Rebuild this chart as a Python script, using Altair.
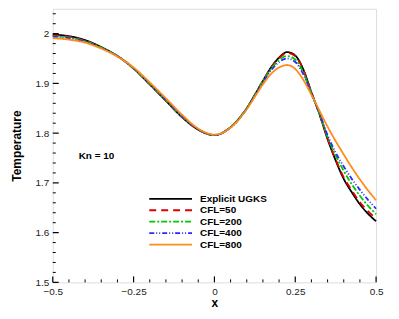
import altair as alt
import pandas as pd

xs = [-0.5, -0.45, -0.4, -0.35, -0.3, -0.25, -0.2, -0.15, -0.1, -0.05, 0.0, 0.05, 0.1, 0.125,
      0.15, 0.175, 0.2, 0.225, 0.25, 0.275, 0.3, 0.325, 0.35, 0.375, 0.4, 0.425, 0.45, 0.475, 0.5]

t_explicit = [1.998, 1.995, 1.987, 1.973, 1.955, 1.930, 1.898, 1.865, 1.832, 1.807, 1.796, 1.812, 1.850, 1.877,
              1.905, 1.932, 1.952, 1.963, 1.956, 1.928, 1.882, 1.838, 1.788, 1.745, 1.708, 1.681, 1.657, 1.638, 1.623]
t_cfl50 = [1.997, 1.994, 1.986, 1.972, 1.955, 1.930, 1.898, 1.865, 1.832, 1.807, 1.796, 1.812, 1.850, 1.877,
           1.905, 1.931, 1.951, 1.961, 1.955, 1.927, 1.882, 1.838, 1.789, 1.747, 1.711, 1.685, 1.661, 1.643, 1.628]
t_cfl200 = [1.995, 1.992, 1.985, 1.972, 1.955, 1.930, 1.899, 1.866, 1.833, 1.808, 1.796, 1.812, 1.850, 1.876,
            1.904, 1.929, 1.947, 1.955, 1.948, 1.922, 1.880, 1.839, 1.792, 1.755, 1.724, 1.697, 1.674, 1.654, 1.637]
t_cfl400 = [1.994, 1.991, 1.984, 1.971, 1.955, 1.931, 1.900, 1.867, 1.834, 1.808, 1.796, 1.811, 1.849, 1.875,
            1.902, 1.926, 1.943, 1.950, 1.943, 1.918, 1.879, 1.840, 1.796, 1.761, 1.733, 1.708, 1.686, 1.666, 1.648]
t_cfl800 = [1.991, 1.988, 1.982, 1.970, 1.954, 1.932, 1.902, 1.870, 1.837, 1.809, 1.797, 1.811, 1.848, 1.873,
            1.898, 1.919, 1.932, 1.937, 1.929, 1.907, 1.877, 1.845, 1.813, 1.784, 1.757, 1.731, 1.707, 1.685, 1.665]

series = ["Explicit UGKS", "CFL=50", "CFL=200", "CFL=400", "CFL=800"]
colors = ["#000000", "#e00000", "#00c800", "#2a2aff", "#ff8c1a"]
dashes = [[1, 0], [7, 5], [6, 2, 2, 2], [5, 2, 1, 2, 1, 2], [1, 0]]
draw_order = ["CFL=800", "CFL=400", "CFL=200", "Explicit UGKS", "CFL=50"]

y_major = [1.5, 1.6, 1.7, 1.8, 1.9, 2.0]
y_minor = [1.52, 1.54, 1.56, 1.58, 1.62, 1.64, 1.66, 1.68, 1.72, 1.74, 1.76, 1.78,
           1.82, 1.84, 1.86, 1.88, 1.92, 1.94, 1.96, 1.98, 2.02, 2.04]
x_major = [-0.5, -0.25, 0.0, 0.25, 0.5]
x_minor = [-0.45, -0.4, -0.35, -0.3, -0.2, -0.15, -0.1, -0.05, 0.05, 0.1, 0.15, 0.2, 0.3, 0.35, 0.4, 0.45]

rows = []
for name, vals in zip(series, [t_explicit, t_cfl50, t_cfl200, t_cfl400, t_cfl800]):
    for x, t in zip(xs, vals):
        rows.append({"x": x, "T": t, "series": name, "order": draw_order.index(name)})
df = pd.DataFrame(rows)

W, H = 325, 275
FONT = "Liberation Sans"

xscale = alt.Scale(domain=[-0.5, 0.5], nice=False, zero=False)
yscale = alt.Scale(domain=[1.5, 2.05], nice=False, zero=False)
cscale = alt.Scale(domain=series, range=colors)
dscale = alt.Scale(domain=series, range=dashes)

lines = alt.Chart(df).mark_line(strokeWidth=1.8, interpolate="monotone").encode(
    x=alt.X("x:Q", scale=xscale,
            axis=alt.Axis(values=x_major, title="x", tickSize=0, labelPadding=4, domain=False,
                          grid=False, labelFont=FONT, labelFontSize=10, labelColor="#222",
                          titleFont=FONT, titleFontSize=12, titleFontWeight="bold", titlePadding=1,
                          labelFlush=False,
                          labelExpr="datum.value == 0 ? '0' : format(datum.value, '')")),
    y=alt.Y("T:Q", scale=yscale,
            axis=alt.Axis(values=y_major, title="Temperature", tickSize=0, labelPadding=4, domain=False,
                          grid=False, labelFont=FONT, labelFontSize=10, labelColor="#222",
                          titleFont=FONT, titleFontSize=12, titleFontWeight="bold", titlePadding=12,
                          labelExpr="format(datum.value, '')")),
    color=alt.Color("series:N", scale=cscale, legend=None),
    strokeDash=alt.StrokeDash("series:N", scale=dscale, legend=None),
    order=alt.Order("order:Q"),
)

yt_major = alt.Chart(pd.DataFrame({"v": y_major})).mark_rule(color="#000", strokeWidth=1.2).encode(
    y=alt.Y("v:Q", scale=yscale), x=alt.value(0), x2=alt.value(6))
yt_minor = alt.Chart(pd.DataFrame({"v": y_minor})).mark_rule(color="#000", strokeWidth=1).encode(
    y=alt.Y("v:Q", scale=yscale), x=alt.value(0), x2=alt.value(3))
xt_major = alt.Chart(pd.DataFrame({"v": x_major})).mark_rule(color="#000", strokeWidth=1.2).encode(
    x=alt.X("v:Q", scale=xscale), y=alt.value(H), y2=alt.value(H - 6))
xt_minor = alt.Chart(pd.DataFrame({"v": x_minor})).mark_rule(color="#000", strokeWidth=1).encode(
    x=alt.X("v:Q", scale=xscale), y=alt.value(H), y2=alt.value(H - 3))

kn = alt.Chart(pd.DataFrame({"x": [-0.42], "T": [1.754], "label": ["Kn = 10"]})).mark_text(
    align="left", baseline="middle", font=FONT, fontSize=10, fontWeight="bold", color="#000"
).encode(x=alt.X("x:Q", scale=xscale), y=alt.Y("T:Q", scale=yscale), text="label:N")

# custom legend
leg_df = pd.DataFrame({"series": series, "idx": list(range(len(series)))})
leg_y = alt.Scale(domain=[0, 4], range=[191, 237])
leg_lines = alt.Chart(leg_df).mark_rule(strokeWidth=1.8).encode(
    y=alt.Y("idx:Q", scale=leg_y, axis=None),
    x=alt.value(97), x2=alt.value(140),
    color=alt.Color("series:N", scale=cscale, legend=None),
    strokeDash=alt.StrokeDash("series:N", scale=dscale, legend=None),
)
leg_text = alt.Chart(leg_df).mark_text(
    align="left", baseline="middle", font=FONT, fontSize=10, fontWeight="bold", color="#000"
).encode(
    y=alt.Y("idx:Q", scale=leg_y, axis=None),
    x=alt.value(148),
    text="series:N",
)
legend = alt.layer(leg_lines, leg_text)

chart = alt.layer(
    alt.layer(lines, yt_major, yt_minor, xt_major, xt_minor, kn),
    legend,
).resolve_scale(y="independent").properties(
    width=W, height=H,
    padding={"left": 45, "top": 0, "right": 15, "bottom": 30},
    autosize=alt.AutoSizeParams(type="none"),
).configure_view(stroke="#000", strokeWidth=2).configure(background="white")

chart.save("out.html", embed_options={"renderer": "svg", "actions": False})
